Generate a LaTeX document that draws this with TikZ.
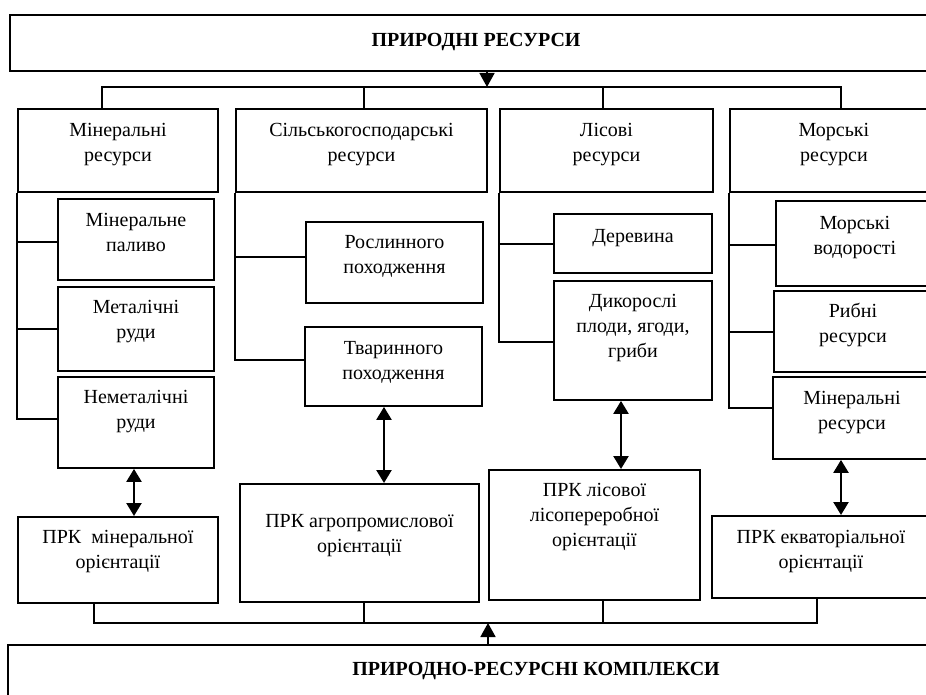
\documentclass[tikz,border=0pt]{standalone}
\usepackage{fontspec}
\setmainfont{Liberation Serif}
\usetikzlibrary{arrows.meta,calc}
\begin{document}
\begin{tikzpicture}[x=1pt,y=-1pt,
 box/.style={draw, line width=1.9pt, inner sep=0pt, anchor=north west},
 bigbox/.style={draw, line width=2.4pt, inner sep=0pt, anchor=north west},
 txt/.style={font=\fontsize{20}{25}\selectfont, align=center, inner sep=0pt, anchor=north},
 ttl/.style={font=\fontsize{20}{25}\selectfont\bfseries, inner sep=0pt, anchor=base},
 conn/.style={line width=1.7pt},
 arr/.style={line width=1.7pt, -{Triangle[width=15pt,length=14pt]}},
 darr/.style={line width=2.4pt, {Triangle[width=15pt,length=13pt]}-{Triangle[width=15pt,length=13pt]}},
]
\useasboundingbox (0,0) rectangle (926,695);
\clip (0,0) rectangle (926,695);
\fill[white] (0,0) rectangle (926,695);

% top and bottom boxes
\node[bigbox, minimum width=940pt, minimum height=56pt] (top) at (9,14) {};
\node[ttl] (toplbl) at (476,47) {ПРИРОДНІ РЕСУРСИ};
\node[bigbox, minimum width=1000pt, minimum height=80pt] (bot) at (7,644) {};
\node[ttl] (botlbl) at (536,675) {ПРИРОДНО-РЕСУРСНІ КОМПЛЕКСИ};

% main resource boxes
\node[box, minimum width=200pt, minimum height=83pt] (min) at (17,108) {};
\node[box, minimum width=251pt, minimum height=83pt] (agr) at (235,108) {};
\node[box, minimum width=213pt, minimum height=83pt] (lis) at (499,108) {};
\node[box, minimum width=208pt, minimum height=83pt] (sea) at (729,108) {};
\node[txt] (minT) at ([yshift=-11pt]min.north) {\strut Мінеральні\\ресурси};
\node[txt] (agrT) at ([yshift=-11pt]agr.north) {\strut Сільськогосподарські\\ресурси};
\node[txt] (lisT) at ([yshift=-11pt]lis.north) {\strut Лісові\\ресурси};
\node[txt] (seaT) at ([yshift=-11pt]sea.north) {\strut Морські\\ресурси};

% mineral sub boxes
\node[box, minimum width=156pt, minimum height=81pt] (mpal) at (57,198) {};
\node[box, minimum width=156pt, minimum height=84pt] (mrud) at (57,286) {};
\node[box, minimum width=156pt, minimum height=91pt] (nrud) at (57,376) {};
\node[txt] (mpalT) at ([yshift=-11pt]mpal.north) {\strut Мінеральне\\паливо};
\node[txt] (mrudT) at ([yshift=-10pt]mrud.north) {\strut Металічні\\руди};
\node[txt] (nrudT) at ([yshift=-10pt]nrud.north) {\strut Неметалічні\\руди};

% agricultural sub boxes
\node[box, minimum width=177pt, minimum height=81pt] (rosl) at (305,221) {};
\node[box, minimum width=177pt, minimum height=79pt] (tvar) at (304,326) {};
\node[txt] (roslT) at ([yshift=-10pt]rosl.north) {\strut Рослинного\\походження};
\node[txt] (tvarT) at ([yshift=-11pt]tvar.north) {\strut Тваринного\\походження};

% forest sub boxes
\node[box, minimum width=158pt, minimum height=59pt] (der) at (553,213) {};
\node[box, minimum width=158pt, minimum height=119pt] (dyk) at (553,280) {};
\node[txt] (derT) at ([yshift=-12pt]der.north) {\strut Деревина};
\node[txt] (dykT) at ([yshift=-10pt]dyk.north) {\strut Дикорослі\\плоди, ягоди,\\гриби};

% sea sub boxes
\node[box, minimum width=158pt, minimum height=85pt] (vod) at (775,200) {};
\node[box, minimum width=158pt, minimum height=81pt] (ryb) at (773,290) {};
\node[box, minimum width=158pt, minimum height=82pt] (smin) at (772,376) {};
\node[txt] (vodT) at ([yshift=-12pt]vod.north) {\strut Морські\\водорості};
\node[txt] (rybT) at ([yshift=-10pt]ryb.north) {\strut Рибні\\ресурси};
\node[txt] (sminT) at ([yshift=-11pt]smin.north) {\strut Мінеральні\\ресурси};

% complex boxes
\node[box, minimum width=200pt, minimum height=86pt] (pmin) at (17,516) {};
\node[box, minimum width=239pt, minimum height=118pt] (pagr) at (239,483) {};
\node[box, minimum width=211pt, minimum height=130pt] (plis) at (488,469) {};
\node[box, minimum width=218pt, minimum height=82pt] (pekv) at (711,515) {};
\node[txt] (pminT) at ([yshift=-10pt]pmin.north) {\strut ПРК\ \ мінеральної\\орієнтації};
\node[txt] (pagrT) at ([yshift=-27pt]pagr.north) {\strut ПРК агропромислової\\орієнтації};
\node[txt] (plisT) at ([yshift=-10pt]plis.north) {\strut ПРК лісової\\лісопереробної\\орієнтації};
\node[txt] (pekvT) at ([yshift=-11pt]pekv.north) {\strut ПРК екваторіальної\\орієнтації};

% top bus
\coordinate (tb1) at (102,87);
\coordinate (tb2) at (364,87);
\coordinate (tb3) at (603,87);
\coordinate (tb4) at (841,87);
\coordinate (tarr) at (487,87);
\draw[conn] (min.north -| tb1) -- (tb1) -- (tb4) -- (sea.north -| tb4);
\draw[conn] (tb2) -- (agr.north -| tb2);
\draw[conn] (tb3) -- (lis.north -| tb3);
\draw[arr] (top.south -| tarr) -- (tarr);

% mineral sub bus
\coordinate (m1) at (17,242);
\coordinate (m2) at (17,329);
\coordinate (m3) at (17,419);
\draw[conn] (min.south west) -- (m3) -- (nrud.west |- m3);
\draw[conn] (m1) -- (mpal.west |- m1);
\draw[conn] (m2) -- (mrud.west |- m2);

% agricultural sub bus
\coordinate (a1) at (235,257);
\coordinate (a2) at (235,360);
\draw[conn] (agr.south west) -- (a2) -- (tvar.west |- a2);
\draw[conn] (a1) -- (rosl.west |- a1);

% forest sub bus
\coordinate (l1) at (499,244);
\coordinate (l2) at (499,342);
\draw[conn] (lis.south west) -- (l2) -- (dyk.west |- l2);
\draw[conn] (l1) -- (der.west |- l1);

% sea sub bus
\coordinate (s1) at (729,245);
\coordinate (s2) at (729,332);
\coordinate (s3) at (729,408);
\draw[conn] (sea.south west) -- (s3) -- (smin.west |- s3);
\draw[conn] (s1) -- (vod.west |- s1);
\draw[conn] (s2) -- (ryb.west |- s2);

% double arrows
\coordinate (d1) at (134,0);
\coordinate (d2) at (384,0);
\coordinate (d3) at (621,0);
\coordinate (d4) at (841,0);
\draw[darr] (nrud.south -| d1) -- (pmin.north -| d1);
\draw[darr] (tvar.south -| d2) -- (pagr.north -| d2);
\draw[darr] (dyk.south -| d3) -- (plis.north -| d3);
\draw[darr] (smin.south -| d4) -- (pekv.north -| d4);

% bottom bus
\coordinate (bb1) at (94,623);
\coordinate (bb2) at (364,623);
\coordinate (bb3) at (603,623);
\coordinate (bb4) at (817,623);
\coordinate (barr) at (488,623);
\draw[conn] (pmin.south -| bb1) -- (bb1) -- (bb4) -- (pekv.south -| bb4);
\draw[conn] (pagr.south -| bb2) -- (bb2);
\draw[conn] (plis.south -| bb3) -- (bb3);
\draw[arr] (bot.north -| barr) -- (barr);
\end{tikzpicture}
\end{document}
